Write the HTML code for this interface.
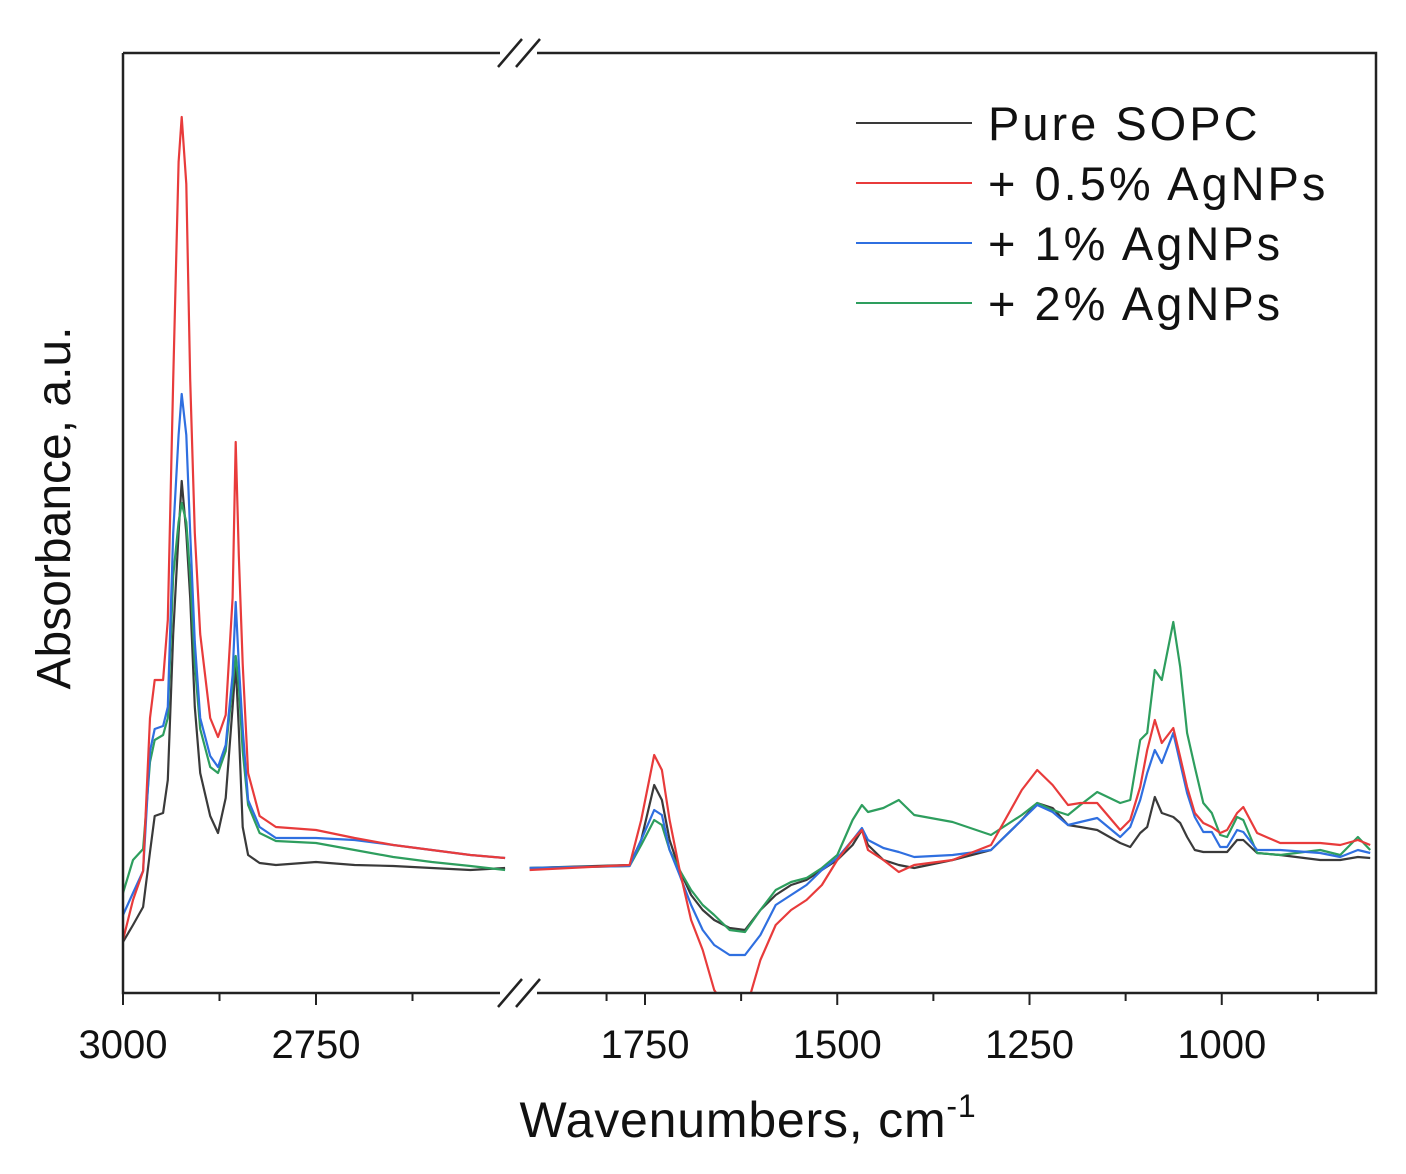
<!DOCTYPE html>
<html><head><meta charset="utf-8"><style>
html,body{margin:0;padding:0;background:#fff;}
svg{display:block;font-family:"Liberation Sans",Arial,sans-serif;}
</style></head><body>
<svg id="chart" width="1406" height="1174" viewBox="0 0 1406 1174">
<defs><clipPath id="pc"><rect x="123" y="53" width="1253" height="940"/></clipPath></defs>
<g id="series" clip-path="url(#pc)"></g>
<g id="axes"></g>
</svg>
<script>
// Segment 1 wavenumbers (cm-1)
const wn1 = [3000,2987,2974,2965,2959,2948,2942,2935,2928,2924,2918,2913,2907,2900,2887,2877,2867,2858,2854,2850,2845,2838,2823,2802,2750,2700,2650,2600,2550,2505];
// absorbance (arbitrary units x1000), segment 1
const black1 = [51,68,86,141,177,180,213,359,460,512,460,395,286,220,177,160,195,286,329,264,166,138,130,128,131,128,127,125,123,125];
const red1   = [53,93,122,275,313,313,373,613,831,876,809,613,460,359,275,256,278,395,551,438,329,220,177,166,163,155,148,143,138,135];
const blue1  = [78,100,122,242,264,267,286,460,558,599,558,460,351,275,237,226,248,318,391,329,264,193,166,155,155,153,148,143,138,135];
const green1 = [100,133,144,231,253,258,275,417,471,490,471,417,329,264,226,220,242,308,337,308,242,188,160,152,150,143,136,131,127,123];
// Segment 2
const wn2 = [1900,1770,1755,1738,1728,1718,1705,1690,1675,1660,1640,1620,1600,1580,1560,1540,1520,1500,1480,1468,1460,1440,1420,1400,1350,1300,1260,1240,1220,1200,1184,1162,1132,1119,1106,1097,1087,1078,1063,1054,1045,1035,1024,1013,1002,993,980,972,954,924,872,846,823,807];
const black2 = [125,128,153,208,193,153,123,98,83,73,65,63,83,98,108,113,123,133,148,163,148,133,128,125,133,143,173,190,185,168,166,163,150,146,160,166,196,180,176,170,156,143,141,141,141,141,153,153,140,138,133,133,136,135];
const red2   = [123,128,173,238,223,173,123,73,43,3,-20,-20,33,68,83,93,108,133,153,163,143,133,121,128,133,148,203,223,208,188,190,190,163,173,206,243,273,250,265,236,206,180,170,166,160,163,180,186,160,150,150,148,153,148];
const blue2  = [125,127,153,183,178,143,118,88,63,48,38,38,58,88,98,108,123,135,153,165,153,145,141,136,138,143,173,188,181,168,171,175,156,166,193,220,243,230,260,230,200,176,161,161,146,146,163,161,143,143,140,136,143,140];
const green2 = [125,127,148,173,168,143,123,103,88,78,63,61,83,103,111,115,125,138,173,188,181,185,193,178,171,158,178,190,183,178,188,201,190,193,253,260,323,313,371,326,260,226,190,180,158,156,176,173,140,138,143,138,156,143];

const seriesList = [
  {name:"pure-sopc", color:"#3a3a3a", s1:black1, s2:black2},
  {name:"agnps-2pct", color:"#2e9e5e", s1:green1, s2:green2},
  {name:"agnps-1pct", color:"#2f6fe0", s1:blue1, s2:blue2},
  {name:"agnps-0.5pct", color:"#e83b3b", s1:red1, s2:red2}
];
const xTicks1 = [3000,2750]; const xMinor1=[2875,2625];
const xTicks2 = [1750,1500,1250,1000]; const xMinor2=[1800,1625,1375,1125,875];
const legendLabels = ["Pure SOPC","+ 0.5% AgNPs","+ 1% AgNPs","+ 2% AgNPs"];
const legendColors = ["#3a3a3a","#e83b3b","#2f6fe0","#2e9e5e"];

const NS="http://www.w3.org/2000/svg";
function x1(w){return 123+(3000-w)*0.772;}
function x2(w){return 645+(1750-w)*0.769;}
function y(v){return 993-v;}
function mk(tag,attrs,parent){const e=document.createElementNS(NS,tag);for(const k in attrs)e.setAttribute(k,attrs[k]);parent.appendChild(e);return e;}
const sg=document.getElementById('series'), ag=document.getElementById('axes');
seriesList.forEach(s=>{
  const d1=wn1.map((w,i)=>(i?'L':'M')+x1(w).toFixed(1)+','+y(s.s1[i]).toFixed(1)).join('');
  const p1=mk('path',{d:d1,fill:'none',stroke:s.color,'stroke-width':2.2,'stroke-linejoin':'round'},sg);
  
  
  const d2=wn2.map((w,i)=>(i?'L':'M')+x2(w).toFixed(1)+','+y(s.s2[i]).toFixed(1)).join('');
  const p2=mk('path',{d:d2,fill:'none',stroke:s.color,'stroke-width':2.2,'stroke-linejoin':'round'},sg);
  
  
});
const fr=['M123,53L500,53','M537,53L1376,53L1376,993L537,993','M500,993L123,993L123,53'];
fr.forEach(f=>{const p=mk('path',{d:f,fill:'none',stroke:'#222','stroke-width':2.5},ag);
  
  });
[53,993].forEach(yy=>{[[498,512],[516,530]].forEach(b=>{
  const l=mk('line',{x1:b[0],y1:yy+14,x2:b[1]+10,y2:yy-14,stroke:'#222','stroke-width':2.5},ag);
  
  });});
function tick(x,len){const t=mk('line',{x1:x,y1:993,x2:x,y2:993+len,stroke:'#222','stroke-width':2},ag);
  
  }
function lab(x,txt){const t=mk('text',{x:x,y:1058,'font-size':40,'text-anchor':'middle',fill:'#111'},ag);t.textContent=txt;
  
  }
xTicks1.forEach(w=>{tick(x1(w),12);lab(x1(w),String(w));});
xMinor1.forEach(w=>tick(x1(w),8));
xTicks2.forEach(w=>{tick(x2(w),12);lab(x2(w),String(w));});
xMinor2.forEach(w=>tick(x2(w),8));
const xt=mk('text',{x:748,y:1137,'font-size':50,'letter-spacing':'0.8','text-anchor':'middle',fill:'#111'},ag);
xt.innerHTML='Wavenumbers, cm<tspan dy="-20" font-size="32">-1</tspan>';


const yt=mk('text',{x:0,y:0,'font-size':48,'text-anchor':'middle',fill:'#111',transform:'translate(70,508) rotate(-90)'},ag);
yt.textContent='Absorbance, a.u.';


legendLabels.forEach((L,i)=>{
  const yy=123+i*60;
  const g=mk('g',{},ag);
  
  
  mk('line',{x1:856,y1:yy,x2:972,y2:yy,stroke:legendColors[i],'stroke-width':2},g);
  const t=mk('text',{x:988,y:yy+17,'font-size':47,'letter-spacing':'3',fill:'#111'},g);t.textContent=L;
});
</script>
</body></html>
